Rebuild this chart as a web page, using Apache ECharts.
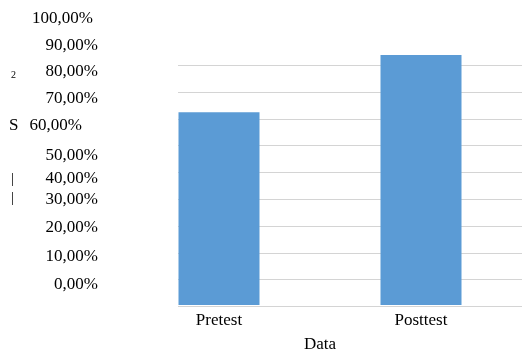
<!DOCTYPE html>
<html>
<head>
<meta charset="utf-8">
<script src="https://cdn.jsdelivr.net/npm/echarts@6/dist/echarts.min.js"></script>
<style>
  html, body { margin: 0; padding: 0; background: #fff; }
  #chart { width: 522px; height: 358px; }
</style>
</head>
<body>
<div id="chart"></div>
<script>
// Chart data
const categories = ['Pretest', 'Posttest'];
const scores = [72.3, 93.8];
const yTickValues = [0, 10, 20, 30, 40, 50, 60, 70, 80, 90, 100];
const xAxisTitle = 'Data';

const FONT = "'Liberation Serif', 'Times New Roman', serif";
const BAR_BLUE = '#5b9bd5';
const GRID_GRAY = '#d4d4d4';

// Percent label in the "90,00%" style
function pct(v) {
  return v.toFixed(2).replace('.', ',') + '%';
}

// Per-tick nudges for the value labels: [right padding, vertical shift]
const labelNudge = {
  100: [5, 0], 60: [16, 0], 50: [0, 4], 30: [0, -6], 20: [0, -4], 10: [0, -2]
};
const rich = {};
Object.keys(labelNudge).forEach(k => {
  const [pr, dy] = labelNudge[k];
  rich['t' + k] = {
    fontFamily: FONT, fontSize: 17, color: '#000',
    padding: [dy > 0 ? dy * 2 : 0, pr, dy < 0 ? -dy * 2 : 0, 0]
  };
});

const chart = echarts.init(document.getElementById('chart'), null, { renderer: 'canvas' });

chart.setOption({
  animation: false,
  backgroundColor: '#fff',
  grid: [
    // bars
    { left: 118, width: 406, top: 38.5, bottom: 51.5, containLabel: false },
    // horizontal gridlines
    { left: 178, right: 0, top: 38.5, bottom: 51.5, containLabel: false },
    // value labels
    { left: 106, width: 10, top: 18.5, bottom: 73, containLabel: false }
  ],
  xAxis: [
    {
      gridIndex: 0, type: 'category', data: categories,
      axisLine: { show: false }, axisTick: { show: false },
      axisLabel: { margin: 7, fontFamily: FONT, fontSize: 17, color: '#000' },
      name: xAxisTitle, nameLocation: 'middle', nameGap: 31,
      nameTextStyle: { fontFamily: FONT, fontSize: 17, color: '#000' }
    },
    { gridIndex: 1, type: 'value', show: false },
    { gridIndex: 2, type: 'value', show: false }
  ],
  yAxis: [
    { gridIndex: 0, type: 'value', min: 0, max: 100, interval: 10, show: false },
    {
      gridIndex: 1, type: 'value', min: 0, max: 100, interval: 10,
      axisLine: { show: false }, axisTick: { show: false }, axisLabel: { show: false },
      splitLine: { show: true, showMinLine: true, showMaxLine: false,
        lineStyle: { color: GRID_GRAY, width: 1 } }
    },
    {
      gridIndex: 2, type: 'value', min: 0, max: 100, interval: 10,
      axisLine: { show: false }, axisTick: { show: false }, splitLine: { show: false },
      axisLabel: {
        margin: 8, fontFamily: FONT, fontSize: 17, color: '#000',
        formatter: v => labelNudge[v] ? '{t' + v + '|' + pct(v) + '}' : pct(v),
        rich: rich
      }
    }
  ],
  series: [
    {
      type: 'bar', xAxisIndex: 0, yAxisIndex: 0,
      data: scores, barWidth: 81,
      itemStyle: { color: BAR_BLUE }
    }
  ],
  graphic: [
    { type: 'text', left: 11, top: 70, style: { text: '2', font: '10px ' + FONT, fill: '#000' } },
    { type: 'text', left: 9, top: 117, style: { text: 'S', font: '17px ' + FONT, fill: '#000' } },
    { type: 'text', left: 11, top: 172, style: { text: '|', font: '15px ' + FONT, fill: '#000' } },
    { type: 'text', left: 11, top: 191, style: { text: '|', font: '15px ' + FONT, fill: '#000' } }
  ]
});
</script>
</body>
</html>
